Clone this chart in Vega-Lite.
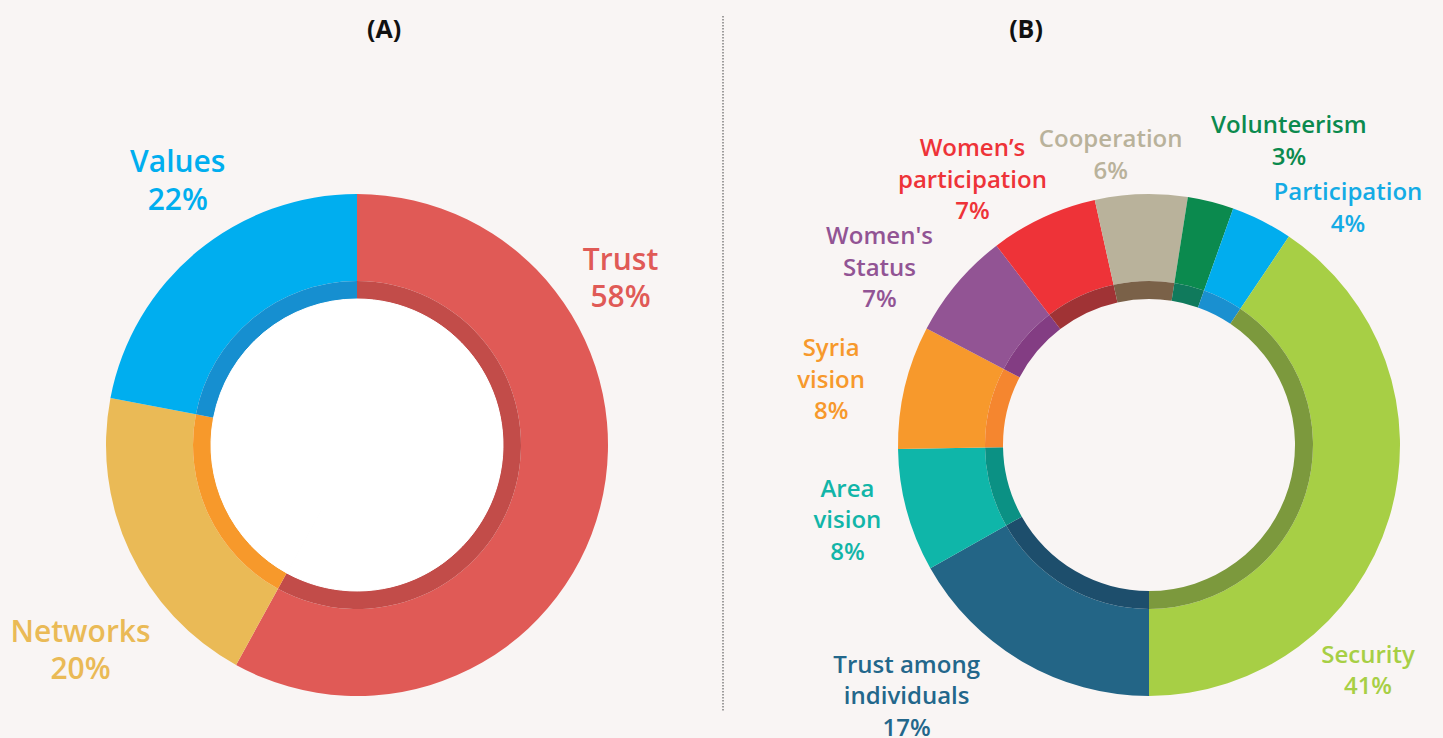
{
  "$schema": "https://vega.github.io/schema/vega-lite/v6.json",
  "background": "#f9f5f4",
  "autosize": {"type": "pad"},
  "padding": {"left": 0, "top": 15, "right": 0, "bottom": 0},
  "spacing": 141,
  "bounds": "flush",
  "config": {"view": {"stroke": null}, "font": "Open Sans"},
  "datasets": {
    "a": [
      {"k": 1, "name": "Trust", "label": "Trust", "value": 58},
      {"k": 2, "name": "Networks", "label": "Networks", "value": 20},
      {"k": 3, "name": "Values", "label": "Values", "value": 22}
    ],
    "b": [
      {"k": 1, "name": "Trust among individuals", "label": "Trust among|individuals", "value": 17},
      {"k": 2, "name": "Area vision", "label": "Area|vision", "value": 8},
      {"k": 3, "name": "Syria vision", "label": "Syria|vision", "value": 8},
      {"k": 4, "name": "Women's Status", "label": "Women's|Status", "value": 7},
      {"k": 5, "name": "Women’s participation", "label": "Women’s|participation", "value": 7},
      {"k": 6, "name": "Cooperation", "label": "Cooperation", "value": 6},
      {"k": 7, "name": "Volunteerism", "label": "Volunteerism", "value": 3},
      {"k": 8, "name": "Participation", "label": "Participation", "value": 4},
      {"k": 9, "name": "Security", "label": "Security", "value": 41}
    ]
  },
  "hconcat": [
    {
      "width": 714,
      "height": 588,
      "title": {"text": "(A)", "frame": "group", "dx": 27, "offset": -47, "baseline": "alphabetic", "fontSize": 25, "font": "Open Sans", "fontWeight": "bold", "color": "#111111"},
      "data": {"name": "a"},
      "transform": [
        {"window": [{"op": "sum", "field": "value", "as": "cum"}], "sort": [{"field": "k"}]},
        {"calculate": "datum.cum - datum.value / 2", "as": "mid"},
        {"calculate": "split(datum.label + '|' + datum.value + '%', '|')", "as": "lines"}
      ],
      "layer": [
        {
          "mark": {"type": "arc", "radius": 251, "radius2": 164},
          "encoding": {
            "theta": {"field": "value", "type": "quantitative", "stack": true, "scale": {"domain": [0, 100], "range": [0, 6.283185307179586]}},
            "order": {"field": "k"},
            "color": {"field": "name", "type": "nominal", "legend": null, "scale": {"domain": ["Trust", "Networks", "Values"], "range": ["#e05a56", "#eaba56", "#00aeef"]}}
          }
        },
        {
          "mark": {"type": "arc", "radius": 164, "radius2": 146},
          "encoding": {
            "theta": {"field": "value", "type": "quantitative", "stack": true, "scale": {"domain": [0, 100], "range": [0, 6.283185307179586]}},
            "order": {"field": "k"},
            "color": {"field": "name", "type": "nominal", "legend": null, "scale": {"domain": ["Trust", "Networks", "Values"], "range": ["#c24c49", "#f7992b", "#168fd0"]}}
          }
        },
        {
          "mark": {"type": "arc", "radius": 146, "radius2": 0, "color": "#ffffff", "stroke": "#ffffff", "strokeWidth": 1},
          "encoding": {
            "theta": {"field": "value", "type": "quantitative", "stack": true, "scale": {"domain": [0, 100], "range": [0, 6.283185307179586]}},
            "order": {"field": "k"}
          }
        },
        {
          "data": {"values": [{"divider": 1}]},
          "mark": {"type": "rule", "color": "#444444", "strokeWidth": 1, "strokeDash": [1.5, 1.5]},
          "encoding": {"x": {"value": 723}, "y": {"value": -135}, "y2": {"value": 560}}
        },
        {
          "transform": [{"filter": "datum.k == 1"}],
          "mark": {"type": "text", "radius": 300, "dx": -27, "dy": -258.75, "fontSize": 30, "fontWeight": 600, "lineHeight": 37.5, "align": "center", "baseline": "middle", "color": "#e05a56"},
          "encoding": {"theta": {"field": "mid", "type": "quantitative", "stack": null, "scale": {"domain": [0, 100], "range": [0, 6.283185307179586]}}, "text": {"field": "lines"}}
        },
        {
          "transform": [{"filter": "datum.k == 2"}],
          "mark": {"type": "text", "radius": 300, "dx": -5, "dy": 60.25, "fontSize": 30, "fontWeight": 600, "lineHeight": 37.5, "align": "center", "baseline": "middle", "color": "#eaba56"},
          "encoding": {"theta": {"field": "mid", "type": "quantitative", "stack": null, "scale": {"domain": [0, 100], "range": [0, 6.283185307179586]}}, "text": {"field": "lines"}}
        },
        {
          "transform": [{"filter": "datum.k == 3"}],
          "mark": {"type": "text", "radius": 300, "dx": 12, "dy": -50.75, "fontSize": 30, "fontWeight": 600, "lineHeight": 37.5, "align": "center", "baseline": "middle", "color": "#00aeef"},
          "encoding": {"theta": {"field": "mid", "type": "quantitative", "stack": null, "scale": {"domain": [0, 100], "range": [0, 6.283185307179586]}}, "text": {"field": "lines"}}
        }
      ],
      "resolve": {"scale": {"color": "independent"}}
    },
    {
      "width": 588,
      "height": 588,
      "title": {"text": "(B)", "frame": "group", "dx": -123, "offset": 51, "baseline": "alphabetic", "fontSize": 25, "font": "Open Sans", "fontWeight": "bold", "color": "#111111"},
      "data": {"name": "b"},
      "transform": [
        {"window": [{"op": "sum", "field": "value", "as": "cum"}], "sort": [{"field": "k"}]},
        {"calculate": "datum.cum - datum.value / 2", "as": "mid"},
        {"calculate": "split(datum.label + '|' + datum.value + '%', '|')", "as": "lines"}
      ],
      "layer": [
        {
          "mark": {"type": "arc", "radius": 251, "radius2": 164},
          "encoding": {
            "theta": {"field": "value", "type": "quantitative", "stack": true, "scale": {"domain": [0, 101], "range": [3.141592653589793, 9.42477796076938]}},
            "order": {"field": "k"},
            "color": {"field": "name", "type": "nominal", "legend": null, "scale": {
              "domain": ["Trust among individuals", "Area vision", "Syria vision", "Women's Status", "Women’s participation", "Cooperation", "Volunteerism", "Participation", "Security"],
              "range": ["#236586", "#0fb6a9", "#f7992c", "#925494", "#ee3338", "#b9b29b", "#0b8a4e", "#01adee", "#a7cf45"]}}
          }
        },
        {
          "mark": {"type": "arc", "radius": 164, "radius2": 146},
          "encoding": {
            "theta": {"field": "value", "type": "quantitative", "stack": true, "scale": {"domain": [0, 101], "range": [3.141592653589793, 9.42477796076938]}},
            "order": {"field": "k"},
            "color": {"field": "name", "type": "nominal", "legend": null, "scale": {
              "domain": ["Trust among individuals", "Area vision", "Syria vision", "Women's Status", "Women’s participation", "Cooperation", "Volunteerism", "Participation", "Security"],
              "range": ["#1d4e6c", "#0b9184", "#f5862f", "#833d83", "#a03335", "#7a6148", "#107a5c", "#1a90d0", "#7c993d"]}}
          }
        },
        {
          "transform": [{"filter": "datum.k == 1"}],
          "mark": {"type": "text", "radius": 300, "dx": -91, "dy": -38.5, "fontSize": 24, "fontWeight": 600, "lineHeight": 31.5, "align": "center", "baseline": "middle", "color": "#23678b"},
          "encoding": {"theta": {"field": "mid", "type": "quantitative", "stack": null, "scale": {"domain": [0, 101], "range": [3.141592653589793, 9.42477796076938]}}, "text": {"field": "lines"}}
        },
        {
          "transform": [{"filter": "datum.k == 2"}],
          "mark": {"type": "text", "radius": 300, "dx": -12, "dy": -33.5, "fontSize": 24, "fontWeight": 600, "lineHeight": 31.5, "align": "center", "baseline": "middle", "color": "#12b5a8"},
          "encoding": {"theta": {"field": "mid", "type": "quantitative", "stack": null, "scale": {"domain": [0, 101], "range": [3.141592653589793, 9.42477796076938]}}, "text": {"field": "lines"}}
        },
        {
          "transform": [{"filter": "datum.k == 3"}],
          "mark": {"type": "text", "radius": 300, "dx": -26, "dy": -26.5, "fontSize": 24, "fontWeight": 600, "lineHeight": 31.5, "align": "center", "baseline": "middle", "color": "#f7992c"},
          "encoding": {"theta": {"field": "mid", "type": "quantitative", "stack": null, "scale": {"domain": [0, 101], "range": [3.141592653589793, 9.42477796076938]}}, "text": {"field": "lines"}}
        },
        {
          "transform": [{"filter": "datum.k == 4"}],
          "mark": {"type": "text", "radius": 300, "dx": -40, "dy": -14.5, "fontSize": 24, "fontWeight": 600, "lineHeight": 31.5, "align": "center", "baseline": "middle", "color": "#925494"},
          "encoding": {"theta": {"field": "mid", "type": "quantitative", "stack": null, "scale": {"domain": [0, 101], "range": [3.141592653589793, 9.42477796076938]}}, "text": {"field": "lines"}}
        },
        {
          "transform": [{"filter": "datum.k == 5"}],
          "mark": {"type": "text", "radius": 300, "dx": -50, "dy": -23.5, "fontSize": 24, "fontWeight": 600, "lineHeight": 31.5, "align": "center", "baseline": "middle", "color": "#ee3338"},
          "encoding": {"theta": {"field": "mid", "type": "quantitative", "stack": null, "scale": {"domain": [0, 101], "range": [3.141592653589793, 9.42477796076938]}}, "text": {"field": "lines"}}
        },
        {
          "transform": [{"filter": "datum.k == 6"}],
          "mark": {"type": "text", "radius": 300, "dx": -29, "dy": -4.75, "fontSize": 24, "fontWeight": 600, "lineHeight": 31.5, "align": "center", "baseline": "middle", "color": "#b9b29b"},
          "encoding": {"theta": {"field": "mid", "type": "quantitative", "stack": null, "scale": {"domain": [0, 101], "range": [3.141592653589793, 9.42477796076938]}}, "text": {"field": "lines"}}
        },
        {
          "transform": [{"filter": "datum.k == 7"}],
          "mark": {"type": "text", "radius": 300, "dx": 66, "dy": -27.75, "fontSize": 24, "fontWeight": 600, "lineHeight": 31.5, "align": "center", "baseline": "middle", "color": "#0b8a4e"},
          "encoding": {"theta": {"field": "mid", "type": "quantitative", "stack": null, "scale": {"domain": [0, 101], "range": [3.141592653589793, 9.42477796076938]}}, "text": {"field": "lines"}}
        },
        {
          "transform": [{"filter": "datum.k == 8"}],
          "mark": {"type": "text", "radius": 300, "dx": 64, "dy": 16.25, "fontSize": 24, "fontWeight": 600, "lineHeight": 31.5, "align": "center", "baseline": "middle", "color": "#14abe5"},
          "encoding": {"theta": {"field": "mid", "type": "quantitative", "stack": null, "scale": {"domain": [0, 101], "range": [3.141592653589793, 9.42477796076938]}}, "text": {"field": "lines"}}
        },
        {
          "transform": [{"filter": "datum.k == 9"}],
          "mark": {"type": "text", "radius": 300, "dx": -68, "dy": 123.25, "fontSize": 24, "fontWeight": 600, "lineHeight": 31.5, "align": "center", "baseline": "middle", "color": "#a7cf45"},
          "encoding": {"theta": {"field": "mid", "type": "quantitative", "stack": null, "scale": {"domain": [0, 101], "range": [3.141592653589793, 9.42477796076938]}}, "text": {"field": "lines"}}
        }
      ],
      "resolve": {"scale": {"color": "independent"}}
    }
  ]
}
